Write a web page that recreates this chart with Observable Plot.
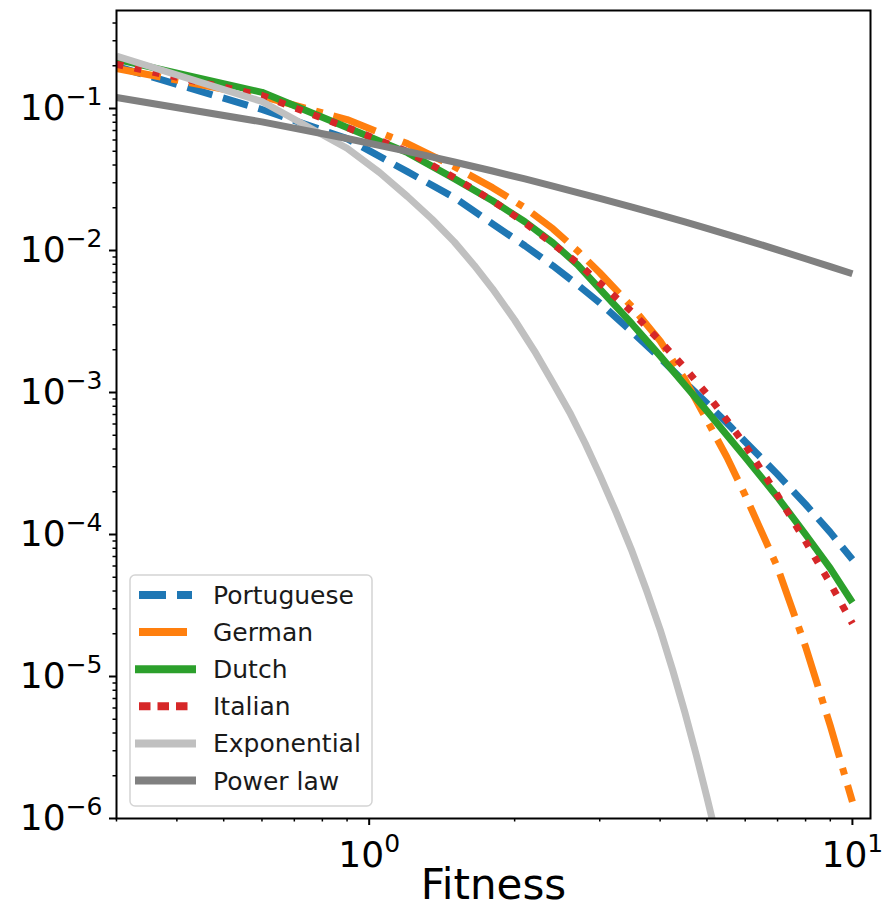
<!DOCTYPE html>
<html>
<head>
<meta charset="utf-8">
<script src="https://cdn.jsdelivr.net/npm/d3@7"></script>
<script src="https://cdn.jsdelivr.net/npm/@observablehq/plot@0.6"></script>
<style>
  body { margin: 0; background: #fff; }
  #chart { width: 895px; height: 916px; }
</style>
</head>
<body>
<div id="chart"></div>
<script>
// ---- data ----
const fitness = [0.3, 0.6, 0.9, 1.2, 1.5, 1.8, 2.1, 2.4, 2.7, 3.0, 3.5, 4, 4.5, 5, 5.5, 6, 7, 8, 9, 10];
const portuguese = [0.198, 0.0984, 0.0614, 0.0359, 0.0236, 0.0154, 0.0108, 0.0078, 0.00573, 0.00428, 0.00267, 0.00175, 0.00118, 8.4e-4, 6.1e-4, 4.5e-4, 2.65e-4, 1.63e-4, 1.035e-4, 6.67e-5];
const german = [0.1914, 0.1216, 0.0836, 0.0566, 0.039, 0.0277, 0.02, 0.01422, 0.00995, 0.00697, 0.00401, 0.00231, 0.00124, 6.38e-4, 3.5e-4, 1.89e-4, 5.86e-5, 1.62e-5, 4.5e-6, 1.31e-6];
const dutch = [0.222, 0.13, 0.0735, 0.0489, 0.0321, 0.0224, 0.01594, 0.01132, 0.00793, 0.00537, 0.00304, 0.00181, 0.00113, 7.4e-4, 5.0e-4, 3.5e-4, 1.83e-4, 1.0e-4, 5.77e-5, 3.32e-5];
const italian = [0.205, 0.1236, 0.0735, 0.0498, 0.0326, 0.0224, 0.01567, 0.01114, 0.00818, 0.00591, 0.00369, 0.0023, 0.00149, 9.75e-4, 6.38e-4, 4.26e-4, 1.89e-4, 8.93e-5, 4.52e-5, 2.36e-5];
const powerLaw = [0.1197, 0.0805, 0.0615, 0.0499, 0.042, 0.0363, 0.0319, 0.0284, 0.0256, 0.0233, 0.0202, 0.0178, 0.0159, 0.0143, 0.013, 0.0119, 0.0101, 0.00875, 0.00769, 0.00686];
const expFitness = [0.3, 0.6, 0.9, 1.05, 1.2, 1.35, 1.5, 1.65, 1.8, 2.0, 2.2, 2.4, 2.6, 2.8, 3.0, 3.25, 3.5, 3.75, 4.0, 4.25, 4.5, 4.75, 5.0, 5.25, 5.5];
const exponential = [0.234, 0.112, 0.0525, 0.0355, 0.024, 0.0166, 0.0115, 0.00785, 0.00537, 0.00324, 0.00195, 0.00117, 7.24e-4, 4.37e-4, 2.63e-4, 1.41e-4, 7.6e-5, 4.03e-5, 2.14e-5, 1.1e-5, 5.6e-6, 2.82e-6, 1.41e-6, 7.1e-7, 3.5e-7];

const seriesNames = ["Portuguese", "German", "Dutch", "Italian", "Exponential", "Power law"];
const xMajorTicks = [1, 10];
const yMajorTicks = [1e-6, 1e-5, 1e-4, 1e-3, 1e-2, 1e-1];
const xLabel = "Fitness";

// ---- styles ----
const seriesX = [fitness, fitness, fitness, fitness, expFitness, fitness];
const seriesValues = [portuguese, german, dutch, italian, exponential, powerLaw];
const colors = ["#1f77b4", "#ff7f0e", "#2ca02c", "#d62728", "#c0c0c0", "#808080"];
const dashes = ["26,11", "45,11,7,11", null, "7,11.5", null, null];
const legendDashes = ["27,11", "48,11,7,11", null, "11.5,7", null, null];

const xMinor = [];
[0.1, 1].forEach(d => { for (let k = 2; k <= 9; k++) { const v = +(k * d).toPrecision(3); if (v >= 0.3 && v <= 10.9) xMinor.push(v); } });
const yMinor = [];
yMajorTicks.forEach(d => { for (let k = 2; k <= 9; k++) { const v = k * d; if (v <= 0.49) yMinor.push(v); } });

const font = "DejaVu Sans";
const supFmt = d => "10^" + Math.round(Math.log10(d));

const lineMarks = seriesNames.map((name, i) => {
  const rows = seriesX[i].map((x, j) => ({ x, y: seriesValues[i][j] })).filter(r => r.y != null);
  return Plot.line(rows, {
    x: "x", y: "y",
    stroke: colors[i], strokeWidth: 7,
    strokeDasharray: dashes[i] || undefined,
    strokeLinecap: "butt", strokeLinejoin: "round",
    curve: "linear",
    clip: true
  });
});

const chart = Plot.plot({
  width: 895,
  height: 916,
  marginLeft: 116,
  marginRight: 25,
  marginTop: 10,
  marginBottom: 98,
  style: { fontFamily: font, background: "white", color: "black", overflow: "visible" },
  x: { type: "log", domain: [0.3, 10.9] },
  y: { type: "log", domain: [1e-6, 0.49] },
  marks: [
    ...lineMarks,
    Plot.axisY(yMinor, { anchor: "left", tickSize: 3.5, tickFormat: () => "", strokeWidth: 1.5, label: null }),
    Plot.axisY(yMajorTicks, { anchor: "left", tickSize: 7, tickPadding: 7, tickFormat: supFmt, fontSize: 36, strokeWidth: 2, label: null }),
    Plot.axisX(xMinor, { anchor: "bottom", tickSize: 3.5, tickFormat: () => "", strokeWidth: 1.5, label: null }),
    Plot.axisX(xMajorTicks, { anchor: "bottom", tickSize: 7, tickPadding: 16, tickFormat: supFmt, fontSize: 36, strokeWidth: 2, label: null }),
    Plot.frame({ stroke: "black", strokeWidth: 2 }),
    Plot.text([xLabel], { frameAnchor: "bottom", dy: 80, fontSize: 42, text: d => d })
  ]
});

// superscript exponents in tick labels
const ns = "http://www.w3.org/2000/svg";
chart.querySelectorAll("text").forEach(t => {
  const m = /^10\^(-?\d+)$/.exec(t.textContent);
  if (!m) return;
  t.textContent = "";
  const base = document.createElementNS(ns, "tspan");
  base.textContent = "10";
  const sup = document.createElementNS(ns, "tspan");
  sup.textContent = m[1].replace("-", "\u2212");
  sup.setAttribute("font-size", "25");
  sup.setAttribute("dy", "-15");
  t.append(base, sup);
});

// legend (lower left, inside the axes)
const svg = d3.select(chart.tagName.toLowerCase() === "svg" ? chart : chart.querySelector("svg"));
const lg = svg.append("g").attr("font-family", font).attr("text-anchor", "start");
lg.append("rect").attr("x", 130).attr("y", 575).attr("width", 242).attr("height", 231)
  .attr("rx", 5).attr("fill", "white").attr("fill-opacity", 0.85)
  .attr("stroke", "#d4d4d4").attr("stroke-width", 1.5);
seriesNames.forEach((name, i) => {
  const cy = 595 + i * 37.1;
  lg.append("line").attr("x1", 139).attr("x2", 192).attr("y1", cy).attr("y2", cy)
    .attr("stroke", colors[i]).attr("stroke-width", 8)
    .attr("stroke-dasharray", legendDashes[i] || null)
    .attr("stroke-linecap", legendDashes[i] ? "butt" : "square");
  lg.append("text").attr("x", 213).attr("y", cy).attr("dy", "0.36em")
    .attr("text-anchor", "start")
    .attr("font-size", 25).attr("fill", "#1a1a1a").text(name);
});

document.getElementById("chart").append(chart);
</script>
</body>
</html>
